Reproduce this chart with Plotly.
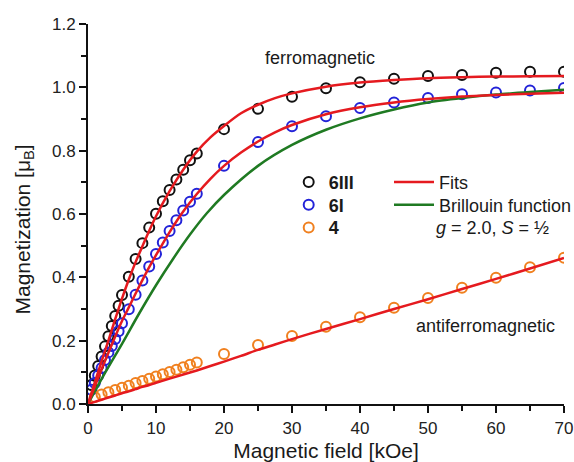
import plotly.graph_objects as go

# ---------------- data ----------------
field_6III = [0.5, 1, 1.5, 2, 2.5, 3, 3.5, 4, 4.5, 5,
              6, 7, 8, 9, 10, 11, 12, 13, 14, 15, 16,
              20, 25, 30, 35, 40, 45, 50, 55, 60, 65, 70]
m_6III = [0.06, 0.09, 0.12, 0.15, 0.182, 0.214, 0.246, 0.278, 0.31, 0.344,
          0.402, 0.458, 0.508, 0.557, 0.601, 0.640, 0.676, 0.709, 0.740, 0.770, 0.791,
          0.868, 0.932, 0.970, 0.997, 1.016, 1.027, 1.036, 1.039, 1.046, 1.049, 1.049]

field_6I = [0.5, 1, 1.5, 2, 2.5, 3, 3.5, 4, 4.5, 5,
            6, 7, 8, 9, 10, 11, 12, 13, 14, 15, 16,
            20, 25, 30, 35, 40, 45, 50, 55, 60, 65, 70]
m_6I = [0.045, 0.066, 0.09, 0.114, 0.139, 0.163, 0.183, 0.205, 0.23, 0.255,
        0.299, 0.345, 0.390, 0.434, 0.474, 0.510, 0.546, 0.580, 0.611, 0.639, 0.664,
        0.752, 0.827, 0.877, 0.909, 0.935, 0.952, 0.966, 0.978, 0.984, 0.990, 0.998]

field_4 = [1, 2, 3, 4, 5, 6, 7, 8, 9, 10, 11, 12, 13, 14, 15, 16,
           20, 25, 30, 35, 40, 45, 50, 55, 60, 65, 70]
m_4 = [0.022, 0.030, 0.037, 0.044, 0.051, 0.058, 0.066, 0.073, 0.080, 0.087,
       0.094, 0.101, 0.108, 0.116, 0.124, 0.131,
       0.158, 0.186, 0.215, 0.244, 0.274, 0.304, 0.335, 0.367, 0.399, 0.432, 0.462]

fit_field = [0, 1, 2, 3, 4, 5, 6, 7, 8, 9, 10, 12, 14, 16, 18,
             20, 22.5, 25, 27.5, 30, 35, 40, 45, 50, 55, 60, 65, 70]
fit_6III = [0, 0.068, 0.135, 0.200, 0.268, 0.333, 0.393, 0.448, 0.498, 0.547, 0.593,
            0.672, 0.740, 0.797, 0.842, 0.878, 0.918, 0.945, 0.966, 0.981, 1.002,
            1.015, 1.023, 1.029, 1.032, 1.034, 1.035, 1.036]
fit_6I = [0, 0.055, 0.110, 0.162, 0.213, 0.262, 0.305, 0.349, 0.391, 0.432, 0.470,
          0.543, 0.608, 0.663, 0.711, 0.752, 0.794, 0.829, 0.858, 0.881, 0.915,
          0.937, 0.952, 0.963, 0.971, 0.976, 0.980, 0.983]
fit_4 = [0, 0.0068, 0.0136, 0.0204, 0.027, 0.034, 0.040, 0.047, 0.054, 0.060, 0.067,
         0.080, 0.093, 0.106, 0.120, 0.134, 0.152, 0.171, 0.188, 0.205, 0.237,
         0.268, 0.300, 0.331, 0.363, 0.395, 0.428, 0.461]

brillouin_field = [0, 2.5, 5, 7.5, 10, 12.5, 15, 17.5, 20, 25, 30, 35, 40, 45, 50, 55, 60, 65, 70]
brillouin_m = [0, 0.098, 0.19, 0.285, 0.375, 0.458, 0.535, 0.603, 0.66, 0.752, 0.818,
               0.866, 0.902, 0.93, 0.952, 0.966, 0.977, 0.985, 0.992]

x_ticks = [0, 10, 20, 30, 40, 50, 60, 70]
y_ticks = [0.0, 0.2, 0.4, 0.6, 0.8, 1.0, 1.2]

# ---------------- styles ----------------
FONT = "Arial, Liberation Sans, Helvetica, sans-serif"
RED = "#e51a1f"
GREEN = "#1f7a22"
BLACK = "#111111"
BLUE = "#2323d8"
ORANGE = "#f0801f"

fig = go.Figure()

def markers(x, y, color, name, legend):
    fig.add_trace(go.Scatter(
        x=x, y=y, mode="markers", name=name, legend=legend, showlegend=True,
        marker=dict(symbol="circle-open", size=10, color=color,
                    line=dict(width=2, color=color))))

markers(field_6III, m_6III, BLACK, "<b>6III</b>", "legend")
markers(field_6I, m_6I, BLUE, "<b>6I</b>", "legend2")
markers(field_4, m_4, ORANGE, "<b>4</b>", "legend3")

fig.add_trace(go.Scatter(x=brillouin_field, y=brillouin_m, mode="lines",
                         name="Brillouin function", legend="legend5", showlegend=True,
                         line=dict(color=GREEN, width=2.5, shape="spline", smoothing=0.8)))
for i, f in enumerate([fit_6III, fit_6I, fit_4]):
    fig.add_trace(go.Scatter(x=fit_field, y=f, mode="lines", name="Fits",
                             legend="legend4", showlegend=(i == 0),
                             line=dict(color=RED, width=2.5, shape="spline", smoothing=0.8)))

# plot area: x 88..564 px, y 24..404 px
L, R, T, B = 88, 10, 24, 58
W, H = 574, 462
pw, ph = W - L - R, H - T - B

def px_x(p):
    return (p - L) / pw

def px_y(p):
    return (H - B - p) / ph

leg_common = dict(bgcolor="rgba(0,0,0,0)", borderwidth=0, xanchor="left",
                  yanchor="middle", font=dict(family=FONT, size=18, color="#1a1a1a"))

row_y = [182.3, 205.0, 227.7]
marker_left = 306.7 - 20 + 2
line_left = 389

fig.update_layout(
    width=W, height=H,
    showlegend=True,
    margin=dict(l=L, r=R, t=T, b=B, autoexpand=False),
    paper_bgcolor="white", plot_bgcolor="white",
    font=dict(family=FONT, color="#1a1a1a"),
    legend=dict(x=px_x(marker_left), y=px_y(row_y[0]), itemwidth=30, visible=True, **leg_common),
    legend2=dict(x=px_x(marker_left), y=px_y(row_y[1]), itemwidth=30, **leg_common),
    legend3=dict(x=px_x(marker_left), y=px_y(row_y[2]), itemwidth=30, **leg_common),
    legend4=dict(x=px_x(line_left), y=px_y(row_y[0]), itemwidth=40, **leg_common),
    legend5=dict(x=px_x(line_left), y=px_y(row_y[1]), itemwidth=40, **leg_common),
    xaxis=dict(range=[0, 70], tickvals=x_ticks, ticks="outside", ticklen=7, tickwidth=2,
               tickcolor="#111", showline=True, linecolor="#111", linewidth=2,
               showgrid=False, zeroline=False, mirror=False, automargin=False,
               ticklabelstandoff=1,
               minor=dict(dtick=5, ticks="outside", ticklen=5, tickwidth=2, tickcolor="#111"),
               tickfont=dict(family=FONT, size=17, color="#222"),
               title=dict(text="Magnetic field [kOe]", standoff=15,
                          font=dict(family=FONT, size=21, color="#1a1a1a"))),
    yaxis=dict(range=[0, 1.2], tickvals=y_ticks, tickformat=".1f", ticks="outside",
               ticklen=7, tickwidth=2, tickcolor="#111", showline=True, linecolor="#111",
               linewidth=2, showgrid=False, zeroline=False, automargin=False,
               minor=dict(dtick=0.1, ticks="outside", ticklen=5, tickwidth=2, tickcolor="#111"),
               tickfont=dict(family=FONT, size=17, color="#222")),
    annotations=[
        dict(text="Magnetization [μ<sub>B</sub>]", xref="paper", yref="paper",
             x=px_x(24), y=px_y(229.5), xanchor="center", yanchor="middle",
             textangle=-90, showarrow=False,
             font=dict(family=FONT, size=21, color="#1a1a1a")),
        dict(text="ferromagnetic", xref="x", yref="y", x=34.1, y=1.0925,
             xanchor="center", yanchor="middle", showarrow=False,
             font=dict(family=FONT, size=18, color="#1a1a1a")),
        dict(text="antiferromagnetic", xref="x", yref="y", x=58.5, y=0.246,
             xanchor="center", yanchor="middle", showarrow=False,
             font=dict(family=FONT, size=18, color="#1a1a1a")),
        dict(text="<i>g</i> = 2.0, <i>S</i> = ½", xref="paper", yref="paper",
             x=px_x(434), y=px_y(row_y[2]), xanchor="left", yanchor="middle",
             showarrow=False, font=dict(family=FONT, size=18, color="#1a1a1a")),
    ],
)

fig.write_html("out.html")
